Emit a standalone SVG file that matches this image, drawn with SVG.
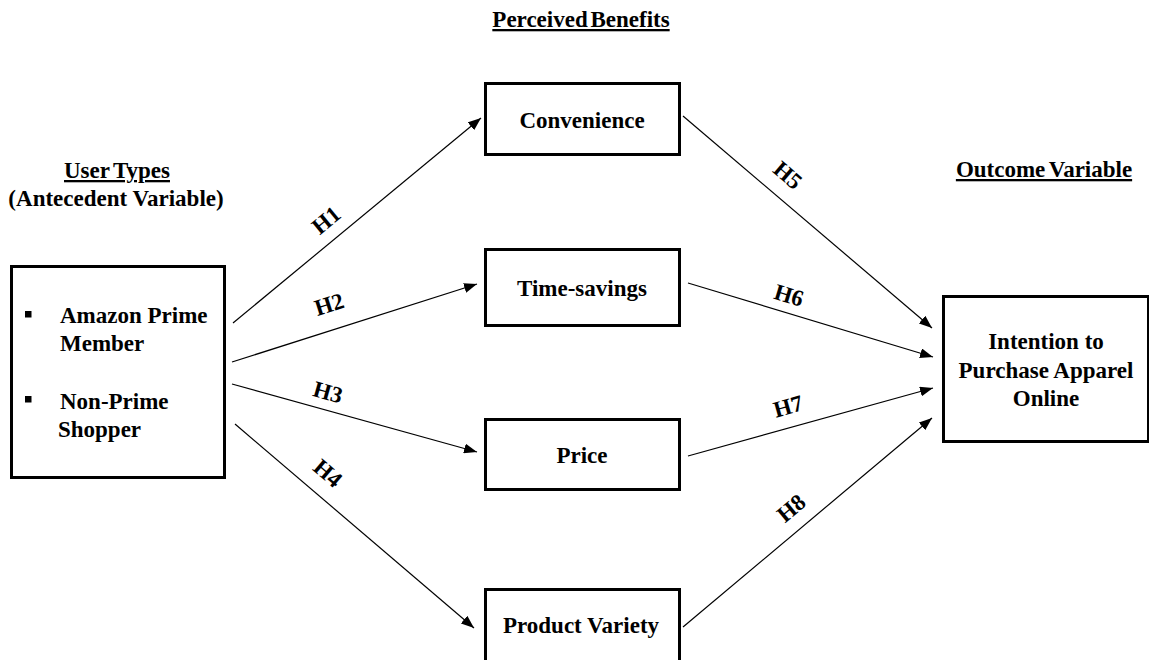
<svg xmlns="http://www.w3.org/2000/svg" width="1149" height="660" viewBox="0 0 1149 660">
<defs>
<style>
text{font-family:"Liberation Serif","Times New Roman",serif;font-weight:bold;font-size:23px;fill:#000}
.c{text-anchor:middle}
.u{text-decoration:underline}
.box{fill:#fff;stroke:#000;stroke-width:3}
.con line{stroke:#000;stroke-width:1.2;marker-end:url(#ah)}
.lbl{font-size:23px;text-anchor:middle}
</style>
<marker id="ah" markerUnits="userSpaceOnUse" markerWidth="14" markerHeight="10" refX="13" refY="5" orient="auto">
<path d="M0,0 L13,5 L0,10 Z" fill="#000"/>
</marker>
</defs>
<rect width="1149" height="660" fill="#fff"/>

<g id="headings">
<text class="c u" x="581" y="27" word-spacing="-3">Perceived Benefits</text>
<text class="c u" x="117" y="178" word-spacing="-2">User Types</text>
<text class="c" x="116" y="206">(Antecedent Variable)</text>
<text class="c u" x="1044" y="177" word-spacing="-2">Outcome Variable</text>
</g>

<g id="connectors" class="con">
<line x1="233" y1="323" x2="481" y2="118"/>
<line x1="232" y1="362" x2="477" y2="284"/>
<line x1="232" y1="384" x2="477" y2="452"/>
<line x1="235" y1="424" x2="474" y2="628"/>
<line x1="683" y1="116" x2="932" y2="328"/>
<line x1="688" y1="283" x2="933" y2="357"/>
<line x1="688" y1="456" x2="933" y2="388"/>
<line x1="683" y1="627" x2="932" y2="418"/>
</g>

<g id="labels">
<text class="lbl" transform="translate(326,220) rotate(-39.6)" y="8">H1</text>
<text class="lbl" transform="translate(329,304) rotate(-17.7)" y="8">H2</text>
<text class="lbl" transform="translate(328,392) rotate(15.5)" y="8">H3</text>
<text class="lbl" transform="translate(328,473) rotate(40.5)" y="8">H4</text>
<text class="lbl" transform="translate(788,175) rotate(40.4)" y="8">H5</text>
<text class="lbl" transform="translate(789,295) rotate(16.8)" y="8">H6</text>
<text class="lbl" transform="translate(788,406) rotate(-15.5)" y="8">H7</text>
<text class="lbl" transform="translate(791,508) rotate(-40)" y="8">H8</text>
</g>

<g id="user-types">
<rect class="box" x="11.5" y="266.5" width="213" height="211"/>
<rect x="25" y="311" width="6.5" height="6.5" fill="#000"/>
<text x="60" y="323">Amazon Prime</text>
<text x="60" y="351">Member</text>
<rect x="25" y="396" width="6.5" height="6.5" fill="#000"/>
<text x="60" y="409">Non-Prime</text>
<text x="58" y="437">Shopper</text>
</g>

<g id="convenience">
<rect class="box" x="485.5" y="83.5" width="194" height="71"/>
<text class="c" x="582" y="128">Convenience</text>
</g>

<g id="time-savings">
<rect class="box" x="485.5" y="249.5" width="194" height="76"/>
<text class="c" x="582" y="296">Time-savings</text>
</g>

<g id="price">
<rect class="box" x="485.5" y="419.5" width="194" height="70"/>
<text class="c" x="582" y="463">Price</text>
</g>

<g id="product-variety">
<rect class="box" x="485.5" y="589.5" width="194" height="72"/>
<text class="c" x="581" y="633">Product Variety</text>
</g>

<g id="intention">
<rect class="box" x="943.5" y="296.5" width="205" height="145"/>
<text class="c" x="1046" y="349">Intention to</text>
<text class="c" x="1046" y="378">Purchase Apparel</text>
<text class="c" x="1046" y="406">Online</text>
</g>
</svg>
